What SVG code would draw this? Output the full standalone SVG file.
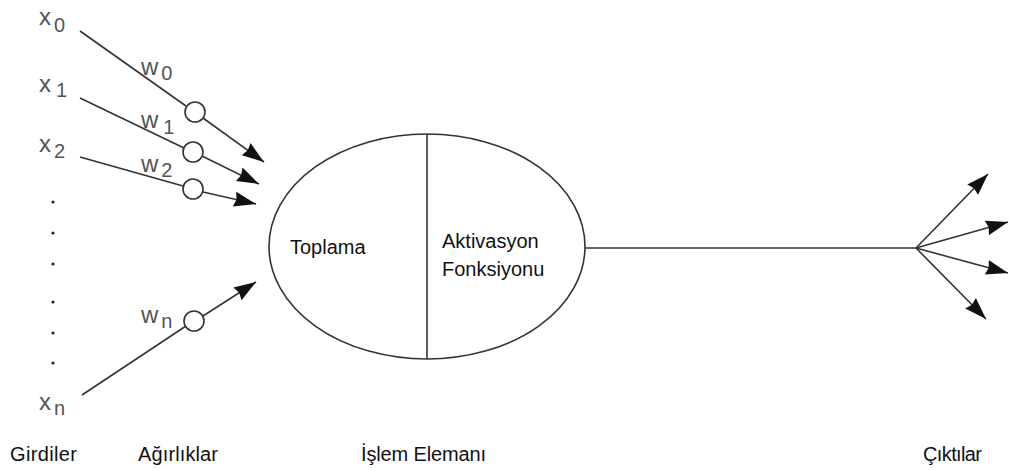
<svg xmlns="http://www.w3.org/2000/svg" width="1009" height="470" viewBox="0 0 1009 470">
  <defs>
    <marker id="arrow" markerUnits="userSpaceOnUse" markerWidth="24" markerHeight="18" refX="22" refY="9" orient="auto">
      <path d="M0,1.5 L22,9 L0,16.5 L2,9 Z" fill="#111"/>
    </marker>
  </defs>
  <style>
    .wire { stroke: #333; stroke-width: 1.6; fill: none; }
    .arr { marker-end: url(#arrow); }
    .weight { fill: #fff; stroke: #333; stroke-width: 1.6; }
    .var { font-family: "Liberation Sans", Arial, sans-serif; font-size: 24px; fill: #555; }
    .sub { font-size: 20px; }
    .lbl { font-family: "Liberation Sans", Arial, sans-serif; font-size: 20px; fill: #111; }
    .dot { fill: #222; }
  </style>
  <rect width="1009" height="470" fill="#fff"/>

  <!-- connectors: inputs through weights to the neuron, and outputs -->
  <g id="connectors">
    <line class="wire" x1="80" y1="31" x2="186" y2="106"/>
    <line class="wire arr" x1="203" y1="118" x2="264" y2="162"/>
    <line class="wire" x1="80" y1="98" x2="184" y2="148"/>
    <line class="wire arr" x1="202" y1="156" x2="259" y2="184"/>
    <line class="wire" x1="80" y1="157" x2="183" y2="186"/>
    <line class="wire arr" x1="203" y1="192" x2="256" y2="204"/>
    <line class="wire" x1="82" y1="395" x2="186" y2="326"/>
    <line class="wire arr" x1="203" y1="316" x2="256" y2="282"/>
    <line class="wire" x1="585" y1="248" x2="916" y2="248"/>
    <line class="wire arr" x1="916" y1="248" x2="988" y2="174"/>
    <line class="wire arr" x1="916" y1="248" x2="1008" y2="222"/>
    <line class="wire arr" x1="916" y1="248" x2="1008" y2="273"/>
    <line class="wire arr" x1="916" y1="248" x2="986" y2="319"/>
  </g>

  <!-- inputs -->
  <g id="inputs">
    <text class="var" x="39" y="25">x<tspan class="sub" dx="3" dy="7">0</tspan></text>
    <text class="var" x="39" y="92">x<tspan class="sub" dx="5" dy="5">1</tspan></text>
    <text class="var" x="39" y="152">x<tspan class="sub" dx="3" dy="6">2</tspan></text>
    <text class="var" x="39" y="410">x<tspan class="sub" dx="3" dy="5">n</tspan></text>
    <circle class="dot" cx="53" cy="202" r="1.6"/>
    <circle class="dot" cx="53" cy="233" r="1.6"/>
    <circle class="dot" cx="53" cy="264" r="1.6"/>
    <circle class="dot" cx="53" cy="302" r="1.6"/>
    <circle class="dot" cx="53" cy="333" r="1.6"/>
    <circle class="dot" cx="53" cy="363" r="1.6"/>
  </g>

  <!-- weights -->
  <g id="weights">
    <circle class="weight" cx="195" cy="112" r="10"/>
    <circle class="weight" cx="193" cy="152" r="10"/>
    <circle class="weight" cx="193" cy="189" r="10"/>
    <circle class="weight" cx="194" cy="321" r="10"/>
    <text class="var" x="141" y="75">w<tspan class="sub" dx="3" dy="5">0</tspan></text>
    <text class="var" x="141" y="128">w<tspan class="sub" dx="5" dy="6">1</tspan></text>
    <text class="var" x="141" y="172">w<tspan class="sub" dx="3" dy="5">2</tspan></text>
    <text class="var" x="141" y="323">w<tspan class="sub" dx="3" dy="5">n</tspan></text>
  </g>

  <!-- processing element -->
  <g id="neuron">
    <ellipse cx="427" cy="246.5" rx="158" ry="112.5" fill="#fff" stroke="#333" stroke-width="1.6"/>
    <line x1="427" y1="134" x2="427" y2="359" stroke="#333" stroke-width="1.6"/>
    <text class="lbl" x="290" y="254">Toplama</text>
    <text class="lbl" x="442" y="248">Aktivasyon</text>
    <text class="lbl" x="442" y="276">Fonksiyonu</text>
  </g>

  <!-- captions -->
  <g id="captions">
    <text class="lbl" x="10" y="461" textLength="67">Girdiler</text>
    <text class="lbl" x="138" y="461" textLength="80">Ağırlıklar</text>
    <text class="lbl" x="361" y="461" textLength="125">İşlem Elemanı</text>
    <text class="lbl" x="923" y="461" textLength="59">Çıktılar</text>
  </g>
</svg>
